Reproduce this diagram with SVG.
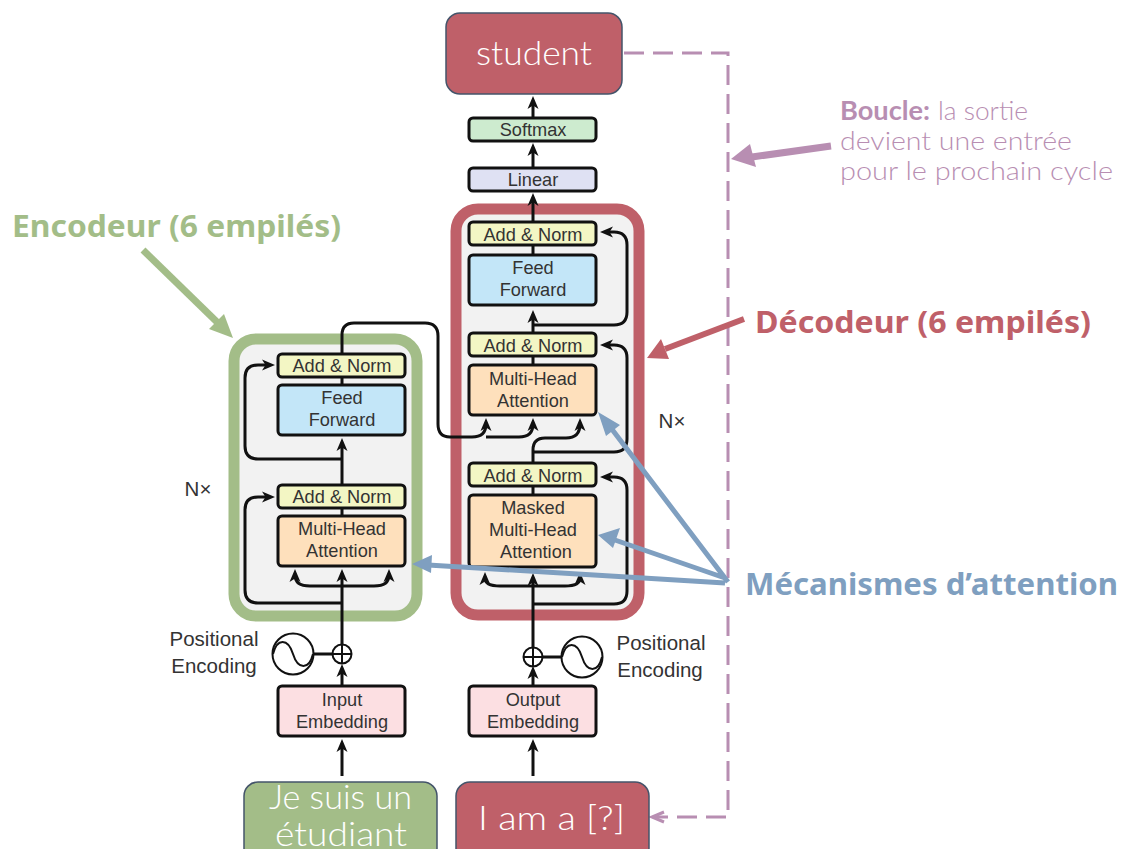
<svg xmlns="http://www.w3.org/2000/svg" width="1125" height="849" viewBox="0 0 1125 849">
<style>
.t{font-family:"Liberation Sans",Arial,sans-serif;font-size:18.2px;fill:#333;text-anchor:middle}
.p{font-size:20.5px}
.b{stroke:#111;stroke-width:3;}
.an{fill:#f3f6c4}.ff{fill:#c3e6f8}.mh{fill:#fee0bc}.em{fill:#fcdfe2}.li{fill:#dfe1f3}.so{fill:#cdebcf}
.c{fill:none;stroke:#111;stroke-width:3}
.h{font-family:"Noto Sans","Liberation Sans",sans-serif;font-size:30px;font-weight:700}
.w{font-family:"Lato","Liberation Sans",sans-serif;font-weight:300;fill:#fff;font-size:34px}
.tl{font-family:"Lato","Liberation Sans",sans-serif;fill:#b88eb2;font-size:26px}
</style>
<defs>
<marker id="a" markerWidth="13" markerHeight="12" refX="7" refY="6" orient="auto" markerUnits="userSpaceOnUse" viewBox="0 0 13 12"><path d="M0 0.5L13 6L0 11.5L3.5 6Z" fill="#111"/></marker>
</defs>
<rect x="0" y="0" width="1125" height="849" fill="#fff"/>
<g id="encoder-frame"><rect x="234" y="339" width="183" height="277" rx="22" fill="#f2f2f2" stroke="#a3bd88" stroke-width="11"/></g>
<g id="decoder-frame"><rect x="456" y="209" width="183" height="406" rx="22" fill="#f2f2f2" stroke="#bf6069" stroke-width="11"/></g>
<g id="connectors">
<path class="c" d="M342 776V745" marker-end="url(#a)"/>
<path class="c" d="M342 686V670" marker-end="url(#a)"/>
<path class="c" d="M342 644V575" marker-end="url(#a)"/>
<path class="c" d="M342 603H258Q245 603 245 590V510Q245 497 258 497H269" marker-end="url(#a)"/>
<path class="c" d="M342 586H310Q295 586 295 575" marker-end="url(#a)"/>
<path class="c" d="M342 586H374Q389 586 389 575" marker-end="url(#a)"/>
<path class="c" d="M342 485V444" marker-end="url(#a)"/>
<path class="c" d="M342 459H258Q245 459 245 446V378Q245 365 258 365H269" marker-end="url(#a)"/>
<path class="c" d="M342 354V335Q342 323 354 323H425Q438 323 438 336V424Q438 437 450 437H472Q486 437 486 424" marker-end="url(#a)"/>
<path class="c" d="M486 437H519Q533 437 533 424" marker-end="url(#a)"/>
<path class="c" d="M533 776V745" marker-end="url(#a)"/>
<path class="c" d="M533 686V672" marker-end="url(#a)"/>
<path class="c" d="M533 647V579" marker-end="url(#a)"/>
<path class="c" d="M533 604H614Q627 604 627 591V490Q627 477 614 477H606" marker-end="url(#a)"/>
<path class="c" d="M533 586H500Q485 586 485 578" marker-end="url(#a)"/>
<path class="c" d="M533 586H565Q580 586 580 578" marker-end="url(#a)"/>
<path class="c" d="M533 463V450Q533 438 545 438H566Q580 438 580 424" marker-end="url(#a)"/>
<path class="c" d="M533 452H614Q627 452 627 439V358Q627 345 614 345H606" marker-end="url(#a)"/>
<path class="c" d="M533 333V316" marker-end="url(#a)"/>
<path class="c" d="M533 325H614Q627 325 627 312V245Q627 232 614 232H606" marker-end="url(#a)"/>
<path class="c" d="M533 222V199" marker-end="url(#a)"/>
<path class="c" d="M533 168V149" marker-end="url(#a)"/>
<path class="c" d="M533 118V102" marker-end="url(#a)"/>
<path d="M342 377V385M342 508V516M533 245V255M533 356V365M533 486V495" class="c"/>
<path d="M314 654H333M533 657H562" class="c"/>
<path d="M624 53H728V817H655" fill="none" stroke="#b88eb2" stroke-width="3" stroke-dasharray="20 9"/>
<path d="M664 812L652 817L664 822" fill="none" stroke="#b88eb2" stroke-width="3"/>
</g>
<g id="n-student"><rect x="446" y="13" width="176" height="81" rx="14" fill="#bf6069" stroke="#44546a" stroke-width="1.5"/><text class="w" x="476" y="65" textLength="116" lengthAdjust="spacingAndGlyphs">student</text></g>
<g id="n-softmax"><rect class="b so" x="469" y="118" width="127" height="23" rx="4"/><text class="t" x="533" y="136">Softmax</text></g>
<g id="n-linear"><rect class="b li" x="469" y="168" width="127" height="23" rx="4"/><text class="t" x="533" y="186">Linear</text></g>
<g id="n-dan2"><rect class="b an" x="469" y="222" width="127" height="23" rx="4"/><text class="t" x="533" y="241">Add &amp; Norm</text></g>
<g id="n-dff"><rect class="b ff" x="469" y="255" width="127" height="50" rx="4"/><text class="t" x="533" y="274">Feed</text><text class="t" x="533" y="296">Forward</text></g>
<g id="n-dan1"><rect class="b an" x="469" y="333" width="127" height="23" rx="4"/><text class="t" x="533" y="352">Add &amp; Norm</text></g>
<g id="n-dmh"><rect class="b mh" x="469" y="365" width="127" height="50" rx="4"/><text class="t" x="533" y="385">Multi-Head</text><text class="t" x="533" y="407">Attention</text></g>
<g id="n-dan0"><rect class="b an" x="469" y="463" width="127" height="23" rx="4"/><text class="t" x="533" y="482">Add &amp; Norm</text></g>
<g id="n-dmm"><rect class="b mh" x="469" y="495" width="127" height="72" rx="4"/><text class="t" x="533" y="514">Masked</text><text class="t" x="533" y="536">Multi-Head</text><text class="t" x="536" y="558">Attention</text></g>
<g id="n-ean2"><rect class="b an" x="278" y="354" width="127" height="23" rx="4"/><text class="t" x="342" y="372">Add &amp; Norm</text></g>
<g id="n-eff"><rect class="b ff" x="278" y="385" width="127" height="50" rx="4"/><text class="t" x="342" y="404">Feed</text><text class="t" x="342" y="426">Forward</text></g>
<g id="n-ean1"><rect class="b an" x="278" y="485" width="127" height="23" rx="4"/><text class="t" x="342" y="503">Add &amp; Norm</text></g>
<g id="n-emh"><rect class="b mh" x="278" y="516" width="127" height="50" rx="4"/><text class="t" x="342" y="535">Multi-Head</text><text class="t" x="342" y="557">Attention</text></g>
<g id="n-iemb"><rect class="b em" x="278" y="686" width="127" height="50" rx="4"/><text class="t" x="342" y="706">Input</text><text class="t" x="342" y="728">Embedding</text></g>
<g id="n-oemb"><rect class="b em" x="469" y="686" width="127" height="50" rx="4"/><text class="t" x="533" y="706">Output</text><text class="t" x="533" y="728">Embedding</text></g>
<g id="n-pe-left">
<circle cx="342" cy="654" r="9.5" fill="#fff" stroke="#111" stroke-width="2"/><path d="M342 645V663M333 654H351" stroke="#111" stroke-width="2"/>
<circle cx="293" cy="654" r="20.5" fill="#fff" stroke="#111" stroke-width="2"/><path d="M273 654C277 638 288 638 293 654S309 670 313 654" fill="none" stroke="#111" stroke-width="2"/>
<text class="t p" x="214" y="646">Positional</text><text class="t p" x="214" y="673">Encoding</text></g>
<g id="n-pe-right">
<circle cx="533" cy="657" r="9.5" fill="#fff" stroke="#111" stroke-width="2"/><path d="M533 648V666M524 657H542" stroke="#111" stroke-width="2"/>
<circle cx="582" cy="657" r="20.5" fill="#fff" stroke="#111" stroke-width="2"/><path d="M562 657C566 641 577 641 582 657S598 673 602 657" fill="none" stroke="#111" stroke-width="2"/>
<text class="t p" x="661" y="650">Positional</text><text class="t p" x="660" y="677">Encoding</text></g>
<g id="labels-nx"><text class="t p" x="198" y="496">N×</text><text class="t p" x="672" y="428">N×</text></g>
<g id="n-je"><rect x="244" y="782" width="193" height="80" rx="14" fill="#a3bd88" stroke="#44546a" stroke-width="1.5"/><text class="w" x="269" y="809" textLength="143" lengthAdjust="spacingAndGlyphs">Je suis un</text><text class="w" x="275" y="846" textLength="132" lengthAdjust="spacingAndGlyphs">étudiant</text></g>
<g id="n-iam"><rect x="456" y="782" width="193" height="80" rx="14" fill="#bf6069" stroke="#44546a" stroke-width="1.5"/><text class="w" x="478" y="830" textLength="147" lengthAdjust="spacingAndGlyphs">I am a [?]</text></g>
<g id="annot-encoder"><text class="h" x="12" y="237" fill="#a3bd88" textLength="329" lengthAdjust="spacingAndGlyphs">Encodeur (6 empilés)</text>
<path d="M143 250L218 323" stroke="#a3bd88" stroke-width="7" fill="none"/><path d="M233 338L209 329L224 314Z" fill="#a3bd88"/></g>
<g id="annot-decoder"><text class="h" x="755" y="333" fill="#bf6069" textLength="336" lengthAdjust="spacingAndGlyphs">Décodeur (6 empilés)</text>
<path d="M744 319L665 349" stroke="#bf6069" stroke-width="6" fill="none"/><path d="M647 358L661 339L669 359Z" fill="#bf6069"/></g>
<g id="annot-loop"><text class="tl" x="840" y="120" font-weight="700" textLength="90" lengthAdjust="spacingAndGlyphs">Boucle:</text><text class="tl" x="938" y="120" textLength="90" lengthAdjust="spacingAndGlyphs" font-weight="300">la sortie</text><text class="tl" x="840" y="150" textLength="232" lengthAdjust="spacingAndGlyphs" font-weight="300">devient une entrée</text><text class="tl" x="840" y="180" textLength="273" lengthAdjust="spacingAndGlyphs" font-weight="300">pour le prochain cycle</text>
<path d="M831 146L752 157" stroke="#b88eb2" stroke-width="7" fill="none"/><path d="M731 159L750 144L756 167Z" fill="#b88eb2"/></g>
<g id="annot-attn"><text class="h" x="745" y="595" fill="#7f9fc0" textLength="373" lengthAdjust="spacingAndGlyphs">Mécanismes d’attention</text>
<g stroke="#7f9fc0" stroke-width="5" fill="none"><path d="M728 582L611 428M725 578L612 539M725 583L428 565"/></g>
<path d="M598 412L620 425L606 436ZM598 535L620 528L613 548ZM412 564L432 555L431 573Z" fill="#7f9fc0"/></g>
</svg>
